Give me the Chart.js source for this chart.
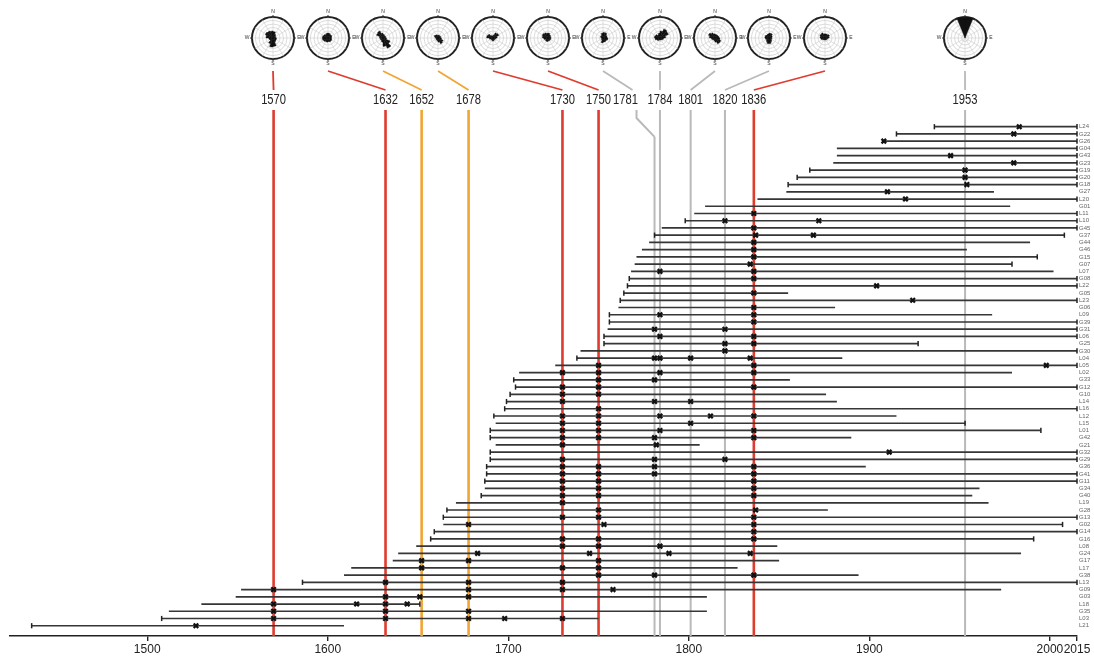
<!DOCTYPE html>
<html>
<head>
<meta charset="utf-8">
<title>Fire history chart</title>
<script src="https://cdn.jsdelivr.net/npm/chart.js@4.4.1/dist/chart.umd.min.js"></script>
<style>
  body { margin: 0; background: #fff; }
  #wrap { position: relative; width: 1094px; height: 659px; }
  #fire { position: absolute; left: 0; top: 0; }
  .rose { position: absolute; }
</style>
</head>
<body>
<div id="wrap"><canvas id="fire" width="1094" height="659"></canvas></div>
<script>
// ---- data ----
const samples = ['L24','G22','G26','G04','G43','G23','G19','G20','G18','G27','L20','G01','L11','L10','G45','G37','G44','G46','G15','G07',
  'L07','G08','L22','G05','L23','G06','L09','G39','G31','L06','G25','G30','L04','L05','L02','G33','G12','G10','L14','L16',
  'L12','L15','L01','G42','G21','G32','G29','G36','G41','G11','G34','G40','L19','G28','G13','G02','G14','G16','L08','G24',
  'G17','L17','G38','L13','G09','G03','L18','G35','L03','L21'];
const firstYears = [1936,1915,1907,1882,1882,1880,1867,1860,1855,1854,1838,1809,1803,1798,1785,1781,1778,1774,1771,1770,
  1768,1767,1766,1764,1762,1761,1756,1756,1755,1753,1753,1740,1738,1726,1706,1703,1704,1701,1699,1698,
  1692,1693,1690,1690,1693,1690,1690,1688,1688,1687,1687,1685,1671,1666,1664,1664,1659,1657,1649,1639,
  1636,1613,1609,1586,1552,1549,1530,1512,1508,1436];
const lastYears = [2015,2015,2015,2015,2015,2015,2015,2015,2015,1969,2015,1978,2015,2015,2015,2008,1989,1954,1993,1979,
  2002,2015,2015,1855,2015,1881,1968,2015,2015,2015,1927,2015,1885,2015,1979,1856,2015,1876,1882,2015,
  1915,1953,1995,1890,1806,2015,2015,1898,2015,2015,1961,1957,1966,1877,2015,2007,2015,1991,1849,1984,
  1850,1827,1894,2015,1973,1810,1651,1810,1750,1609];
// 1 = the ring series ends with a bar (pith / bark)
const startBars = [1,1,0,0,0,0,1,1,1,0,0,0,0,1,0,1,0,0,0,0, 0,1,1,1,1,0,1,1,0,1,1,0,1,0,0,1,1,1,1,1,
  1,0,1,1,0,1,1,1,1,1,0,1,0,1,1,0,1,1,0,0, 0,0,0,1,0,0,0,0,1,1];
const endBars = [1,1,1,1,1,1,1,1,1,0,1,0,1,1,1,1,0,0,1,1, 0,1,1,0,1,0,0,1,1,1,1,1,0,1,0,0,1,0,0,1,
  0,1,1,0,0,1,1,0,1,1,0,0,0,0,1,1,1,1,0,0, 0,0,0,1,0,0,1,0,0,0];
const scarYears = [
  [1983],[1980],[1908],[],[1945],[1980],[1953],[1953],[1954],[1910],
  [1920],[],[1836],[1820,1872],[1836],[1837,1869],[1836],[1836],[1836],[1834],
  [1784,1836],[1836],[1904],[1836],[1924],[1836],[1784,1836],[1836],[1781,1820],[1784,1836],
  [1820,1836],[1820],[1781,1784,1801,1834],[1750,1836,1998],[1730,1750,1784,1836],[1750,1781],[1730,1750,1836],[1730,1750],[1730,1781,1801],[1750],
  [1730,1750,1784,1812,1836],[1730,1750,1801],[1730,1750,1784,1836],[1730,1750,1781,1836],[1730,1782],[1911],[1730,1781,1820],[1730,1750,1781,1836],[1730,1750,1781,1836],[1730,1750,1836],
  [1730,1750,1836],[1730,1750,1836],[1730],[1750,1837],[1730,1750,1836],[1678,1753,1836],[1836],[1730,1750,1836],[1730,1750,1784],[1683,1745,1789,1834],
  [1652,1678,1750],[1652,1730,1750],[1750,1781,1836],[1632,1678,1730],[1570,1678,1730,1758],[1632,1651,1678],[1570,1616,1632,1644],[1570,1632,1678],[1570,1632,1678,1698,1730],[1527]
];
const fireYears = [1570,1632,1652,1678,1730,1750,1781,1784,1801,1820,1836,1953];
const fireGroups = ['major','major','moderate','moderate','major','major','minor','minor','minor','minor','major','minor'];
const xTicks = [1500,1600,1700,1800,1900,2000,2015];

// wind roses: 16 sectors clockwise from north, 6 rings
const roseBins = ['N','NNE','NE','ENE','E','ESE','SE','SSE','S','SSW','SW','WSW','W','WNW','NW','NNW'];
const rose1570 = [1.8,1.2,0.8,0.8,1,1,1.2,2.4,2.6,1.8,1,1.2,2,2.4,2.2,2];
const rose1632 = [1.4,1.2,1.2,1,1,1.2,1.2,1,1.2,1.2,1.4,1.6,1.6,1.4,1.2,1.4];
const rose1652 = [1,0.8,0.8,0.8,1,2.2,3.2,2.4,1.2,0.8,0.8,0.8,1,2,2.2,1.4];
const rose1678 = [0.8,0.8,0.8,0.8,1,1.6,1.8,1.2,0.8,0.6,0.6,0.6,0.8,1.2,1,0.8];
const rose1730 = [0.8,1.6,1.8,1.2,0.8,0.6,0.6,0.8,0.8,0.6,0.6,1,1.8,1.6,0.8,0.6];
const rose1750 = [1.4,1,0.8,0.8,0.8,0.8,0.8,0.8,1,1,0.8,1.2,1.6,1.8,1.6,1.4];
const rose1781 = [1.6,1.6,1.2,1.2,1.4,1.2,1.2,1.2,1.4,0.6,0.4,0.4,0.6,0.8,0.8,1.4];
const rose1784 = [2,2.8,2.6,1.6,1,0.8,0.6,0.6,0.6,0.8,1,1.4,1.6,1.4,1,1.4];
const rose1801 = [1,1,1,1.2,1.4,1.8,1.8,1.2,0.8,0.6,0.8,1,1.6,2,1.6,1.2];
const rose1820 = [1.4,1.4,1,0.8,0.8,0.8,1.2,1.6,1.6,1.2,0.8,1,1.2,1.2,1,1.2];
const rose1836 = [1.2,1.2,1.4,1.2,0.8,0.6,0.6,0.6,0.6,0.6,0.8,1.2,1.4,1.6,1.6,1.2];
const rose1953 = [6,0,0,0,0,0,0,0,0,0,0,0,0,0,0,6];
const roseSets = [rose1570,rose1632,rose1652,rose1678,rose1730,rose1750,rose1781,rose1784,rose1801,rose1820,rose1836,rose1953];

// ---- layout / style ----
const colors = { major: '#df3b2f', moderate: '#f1a534', minor: '#b9b9b9' };
const Y_MIN = -2.31, Y_MAX = 70.42;
const ROSE_X = [273, 328, 383, 438, 493, 548, 603, 660, 715, 769, 825, 965];
const ROSE_Y = 38, ROSE_R = 21.5, ROSE_BOX = 64, ROSE_RINGS = 6;
const LABEL_Y = 100, CONNECT_TOP = 71, CONNECT_BOTTOM = 90;
// labels that are pushed aside and joined to their line by a bent leader
const LEADERS = { 1781: { labelDx: -29, joinDx: 7, stubDx: -18, bendRow: 1.4 } };

// ring series as one broken line
const seriesLine = [];
samples.forEach((s, i) => {
  seriesLine.push({ x: firstYears[i], y: i }, { x: lastYears[i], y: i }, { x: lastYears[i], y: null });
});
const barPoints = [];
samples.forEach((s, i) => {
  if (startBars[i]) barPoints.push({ x: firstYears[i], y: i });
  if (endBars[i]) barPoints.push({ x: lastYears[i], y: i });
});
const scarPoints = [];
scarYears.forEach((list, i) => list.forEach(yr => scarPoints.push({ x: yr, y: i })));

const fireLineSets = fireYears.map((yr, k) => ({
  type: 'line',
  data: [{ x: yr, y: LEADERS[yr] ? LEADERS[yr].bendRow : Y_MIN }, { x: yr, y: Y_MAX }],
  borderColor: colors[fireGroups[k]],
  borderWidth: fireGroups[k] === 'minor' ? 2 : 2.6,
  pointRadius: 0,
  order: 3,
  clip: false
}));

// narrow-looking text: squeeze Arial horizontally
function narrowText(ctx, text, x, y, squeeze) {
  ctx.save();
  ctx.translate(x, y);
  ctx.scale(squeeze, 1);
  ctx.fillText(text, 0, 0);
  ctx.restore();
}

const fireLabelPlugin = {
  id: 'fireLabels',
  afterDatasetsDraw(chart) {
    const ctx = chart.ctx, xs = chart.scales.x, ys = chart.scales.y;
    const top = chart.chartArea.top;
    ctx.save();
    ctx.font = '14px Arial';
    ctx.fillStyle = '#222';
    ctx.textAlign = 'center';
    ctx.textBaseline = 'middle';
    fireYears.forEach((yr, k) => {
      const lineX = xs.getPixelForValue(yr);
      const lead = LEADERS[yr];
      const labelX = lineX + (lead ? lead.labelDx : 0);
      narrowText(ctx, String(yr), labelX, LABEL_Y, 0.8);
      ctx.strokeStyle = colors[fireGroups[k]];
      ctx.lineWidth = 1.8;
      ctx.beginPath();
      ctx.moveTo(ROSE_X[k], CONNECT_TOP);
      ctx.lineTo(labelX + (lead ? lead.joinDx : 0), CONNECT_BOTTOM);
      ctx.stroke();
      if (lead) {
        ctx.lineWidth = 2;
        ctx.beginPath();
        ctx.moveTo(lineX + lead.stubDx, top);
        ctx.lineTo(lineX + lead.stubDx, top + 8);
        ctx.lineTo(lineX, ys.getPixelForValue(lead.bendRow));
        ctx.stroke();
      }
    });
    ctx.restore();
  }
};

new Chart(document.getElementById('fire'), {
  type: 'scatter',
  data: {
    datasets: [
      {
        type: 'scatter',
        data: scarPoints,
        pointStyle: 'crossRot',
        pointRadius: 3.2,
        borderWidth: 2.3,
        borderColor: '#111',
        order: 0,
        clip: false
      },
      {
        type: 'scatter',
        data: barPoints,
        pointStyle: 'line',
        rotation: 90,
        pointRadius: 2.6,
        borderWidth: 1.5,
        borderColor: '#222',
        order: 1,
        clip: false
      },
      {
        type: 'line',
        data: seriesLine,
        borderColor: '#363636',
        borderWidth: 1.7,
        pointRadius: 0,
        spanGaps: false,
        order: 2,
        clip: false
      },
      ...fireLineSets
    ]
  },
  options: {
    responsive: false,
    animation: false,
    layout: { padding: { top: 110, left: 10, right: 0, bottom: 0 } },
    plugins: { legend: { display: false }, tooltip: { enabled: false } },
    scales: {
      x: {
        type: 'linear',
        min: 1424,
        max: 2015,
        afterBuildTicks: s => { s.ticks = xTicks.map(v => ({ value: v })); },
        afterFit: s => { s.height = 23; },
        grid: { drawOnChartArea: false, drawTicks: true, tickLength: 5, color: '#222', lineWidth: 1.4 },
        border: { display: true, color: '#222', width: 1.6 },
        ticks: {
          padding: 1, color: '#222', autoSkip: false, maxRotation: 0,
          font: { size: 12, family: 'Arial' },
          callback: v => String(v)
        }
      },
      y: {
        type: 'linear',
        position: 'right',
        reverse: true,
        min: Y_MIN,
        max: Y_MAX,
        afterBuildTicks: s => { s.ticks = samples.map((n, i) => ({ value: i })); },
        afterFit: s => { s.width = 17; },
        grid: { display: false, drawTicks: false },
        border: { display: false },
        ticks: {
          padding: 2, color: '#666', autoSkip: false,
          font: { size: 6, family: 'Arial' },
          callback: v => samples[v]
        }
      }
    }
  },
  plugins: [fireLabelPlugin]
});

// ---- roses ----
const compassPlugin = {
  id: 'compass',
  beforeDatasetsDraw(chart) {
    // 12 light spokes behind the sectors
    const r = chart.scales.r, ctx = chart.ctx;
    ctx.save();
    ctx.strokeStyle = '#cdcdcd';
    ctx.lineWidth = 0.6;
    for (let a = 0; a < 360; a += 30) {
      const t = a * Math.PI / 180;
      ctx.beginPath();
      ctx.moveTo(r.xCenter, r.yCenter);
      ctx.lineTo(r.xCenter + Math.sin(t) * r.drawingArea, r.yCenter - Math.cos(t) * r.drawingArea);
      ctx.stroke();
    }
    ctx.restore();
  },
  afterDraw(chart) {
    const r = chart.scales.r, ctx = chart.ctx;
    const cx = r.xCenter, cy = r.yCenter, R = r.drawingArea;
    ctx.save();
    ctx.strokeStyle = '#333';
    ctx.fillStyle = '#333';
    ctx.lineWidth = 1;
    ctx.font = '5px Arial';
    ctx.textAlign = 'center';
    ctx.textBaseline = 'middle';
    [[0, -1, 'N'], [1, 0, 'E'], [0, 1, 'S'], [-1, 0, 'W']].forEach(([dx, dy, t]) => {
      ctx.beginPath();
      ctx.moveTo(cx + dx * (R - 1), cy + dy * (R - 1));
      ctx.lineTo(cx + dx * (R + 2), cy + dy * (R + 2));
      ctx.stroke();
      ctx.fillText(t, cx + dx * (R + 5), cy + dy * (R + 5));
    });
    ctx.restore();
  }
};

const wrap = document.getElementById('wrap');
roseSets.forEach((vals, k) => {
  const c = document.createElement('canvas');
  c.width = ROSE_BOX;
  c.height = ROSE_BOX;
  c.className = 'rose';
  c.style.left = (ROSE_X[k] - ROSE_BOX / 2) + 'px';
  c.style.top = (ROSE_Y - ROSE_BOX / 2) + 'px';
  wrap.appendChild(c);
  new Chart(c, {
    type: 'polarArea',
    data: {
      labels: roseBins,
      datasets: [{ data: vals, backgroundColor: '#111', borderColor: '#111', borderWidth: 0.4 }]
    },
    options: {
      responsive: false,
      animation: false,
      layout: { padding: ROSE_BOX / 2 - ROSE_R },
      plugins: { legend: { display: false }, tooltip: { enabled: false } },
      scales: {
        r: {
          min: 0,
          max: ROSE_RINGS,
          startAngle: 0,
          ticks: { display: false, stepSize: 1 },
          grid: {
            color: ctx => ctx.index === ROSE_RINGS ? '#222' : '#c4c4c4',
            lineWidth: ctx => ctx.index === ROSE_RINGS ? 2 : 0.6
          },
          angleLines: { display: false },
          pointLabels: { display: false }
        }
      }
    },
    plugins: [compassPlugin]
  });
});
</script>
</body>
</html>
